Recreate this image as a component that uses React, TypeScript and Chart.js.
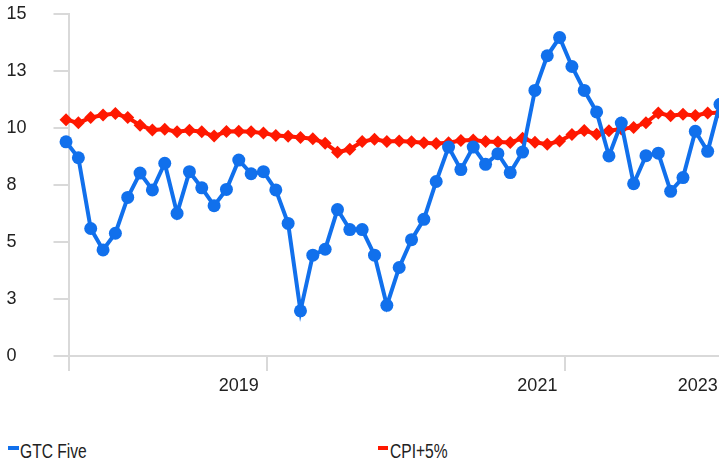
import React, { useEffect, useRef } from 'react';
import { Chart, registerables } from 'chart.js';

Chart.register(...registerables);

const seriesNames = ['GTC Five', 'CPI+5%'];

const gtcFive = [
  9.39, 8.69, 5.59, 4.65, 5.38, 6.95, 8.02, 7.28, 8.45, 6.25,
  8.08, 7.37, 6.59, 7.30, 8.59, 7.99, 8.08, 7.28, 5.81, 1.98,
  4.42, 4.68, 6.42, 5.54, 5.54, 4.42, 2.22, 3.88, 5.10, 5.99,
  7.65, 9.16, 8.17, 9.16, 8.40, 8.87, 8.04, 8.94, 11.64, 13.16,
  13.96, 12.69, 11.64, 10.70, 8.77, 10.21, 7.55, 8.78, 8.89, 7.22,
  7.82, 9.85, 8.97, 11.03,
];

const cpiPlus5 = [
  10.36, 10.22, 10.45, 10.56, 10.63, 10.45, 10.12, 9.91, 9.94, 9.83,
  9.90, 9.83, 9.64, 9.84, 9.85, 9.83, 9.77, 9.67, 9.63, 9.58,
  9.52, 9.33, 8.93, 9.06, 9.40, 9.50, 9.40, 9.42, 9.39, 9.35,
  9.32, 9.35, 9.45, 9.47, 9.40, 9.38, 9.36, 9.54, 9.37, 9.28,
  9.42, 9.71, 9.88, 9.72, 9.87, 9.95, 10.02, 10.22, 10.65, 10.53,
  10.60, 10.54, 10.65, 10.66,
];

const xLabels = ['2019', '2021', '2023'];
const xLabelPositions = [14, 38.2, 51.2];
const xTickMarks = [0.2, 16.3, 40.4];
const xRange = [0.2, 53];
const yTickLabels = ['0', '3', '5', '8', '10', '13', '15'];
const yRange = [0, 15];
const yStep = 2.5;

const FONT = "'Liberation Sans', Arial, sans-serif";
const BLUE = '#1170ec';
const RED = '#ff1800';
const AXIS = '#d9d9d9';
const TEXT = '#222222';

export default function App() {
  const ref = useRef<HTMLCanvasElement>(null);

  useEffect(() => {
    if (!ref.current) return;
    const chart = new Chart(ref.current, {
      type: 'line',
      data: {
        datasets: [
          {
            label: seriesNames[0],
            data: gtcFive.map((y, i) => ({ x: i, y })),
            borderColor: BLUE,
            backgroundColor: BLUE,
            pointBackgroundColor: BLUE,
            borderWidth: 4,
            pointRadius: 6.5,
            pointHoverRadius: 6.5,
            pointBorderWidth: 0,
            pointStyle: 'circle',
            tension: 0,
            clip: false,
          },
          {
            label: seriesNames[1],
            data: cpiPlus5.map((y, i) => ({ x: i, y })),
            borderColor: RED,
            backgroundColor: RED,
            pointBackgroundColor: RED,
            borderWidth: 4,
            pointRadius: 6.5,
            pointHoverRadius: 6.5,
            pointBorderWidth: 0,
            pointStyle: 'rectRot',
            tension: 0,
            clip: false,
          },
        ],
      },
      options: {
        animation: false,
        responsive: false,
        devicePixelRatio: 1,
        layout: { autoPadding: false, padding: { left: 6.5, top: 12, right: 1, bottom: 0 } },
        plugins: {
          legend: { display: false },
          tooltip: { enabled: false },
        },
        scales: {
          x: {
            type: 'linear',
            min: xRange[0],
            max: xRange[1],
            afterBuildTicks: (s: any) => {
              s.ticks = [...xTickMarks, ...xLabelPositions]
                .sort((a, b) => a - b)
                .map((v) => ({ value: v }));
            },
            afterFit: (s: any) => {
              s.height = 44;
              s.paddingLeft = 0;
              s.paddingRight = 0;
            },
            ticks: {
              autoSkip: false,
              maxRotation: 0,
              minRotation: 0,
              padding: 4,
              color: TEXT,
              font: { family: FONT, size: 18 },
              callback: (v: any) => {
                const k = xLabelPositions.indexOf(Number(v));
                return k >= 0 ? xLabels[k] : '';
              },
            },
            grid: {
              drawOnChartArea: false,
              drawTicks: true,
              tickLength: 15,
              lineWidth: 2,
              color: (ctx: any) =>
                ctx.tick && xTickMarks.includes(ctx.tick.value) ? AXIS : 'rgba(0,0,0,0)',
            },
            border: { display: true, color: AXIS, width: 2 },
          },
          y: {
            type: 'linear',
            min: yRange[0],
            max: yRange[1],
            afterFit: (s: any) => {
              s.width = 62;
            },
            ticks: {
              stepSize: yStep,
              crossAlign: 'far',
              color: TEXT,
              font: { family: FONT, size: 18 },
              callback: (_v: any, i: number) => yTickLabels[i],
            },
            grid: {
              drawOnChartArea: false,
              drawTicks: true,
              tickLength: 15,
              lineWidth: 2,
              color: AXIS,
            },
            border: { display: true, color: AXIS, width: 2 },
          },
        },
      },
    } as any);
    return () => chart.destroy();
  }, []);

  const legendText: React.CSSProperties = {
    position: 'absolute',
    top: 441.4,
    fontFamily: FONT,
    fontSize: 20,
    lineHeight: '20px',
    color: TEXT,
    whiteSpace: 'nowrap',
    transform: 'scaleX(0.78)',
    transformOrigin: '0 0',
  };

  return (
    <div
      style={{
        position: 'fixed',
        left: 0,
        top: 0,
        width: 719,
        height: 461,
        overflow: 'hidden',
        background: '#ffffff',
      }}
    >
      <canvas ref={ref} width={721} height={400} style={{ display: 'block' }} />
      <div style={{ position: 'absolute', left: 7.5, top: 446, width: 11, height: 4, background: BLUE }} />
      <div style={{ ...legendText, left: 20 }}>{seriesNames[0]}</div>
      <div style={{ position: 'absolute', left: 378, top: 446, width: 10, height: 4, background: RED }} />
      <div style={{ ...legendText, left: 390 }}>{seriesNames[1]}</div>
    </div>
  );
}
